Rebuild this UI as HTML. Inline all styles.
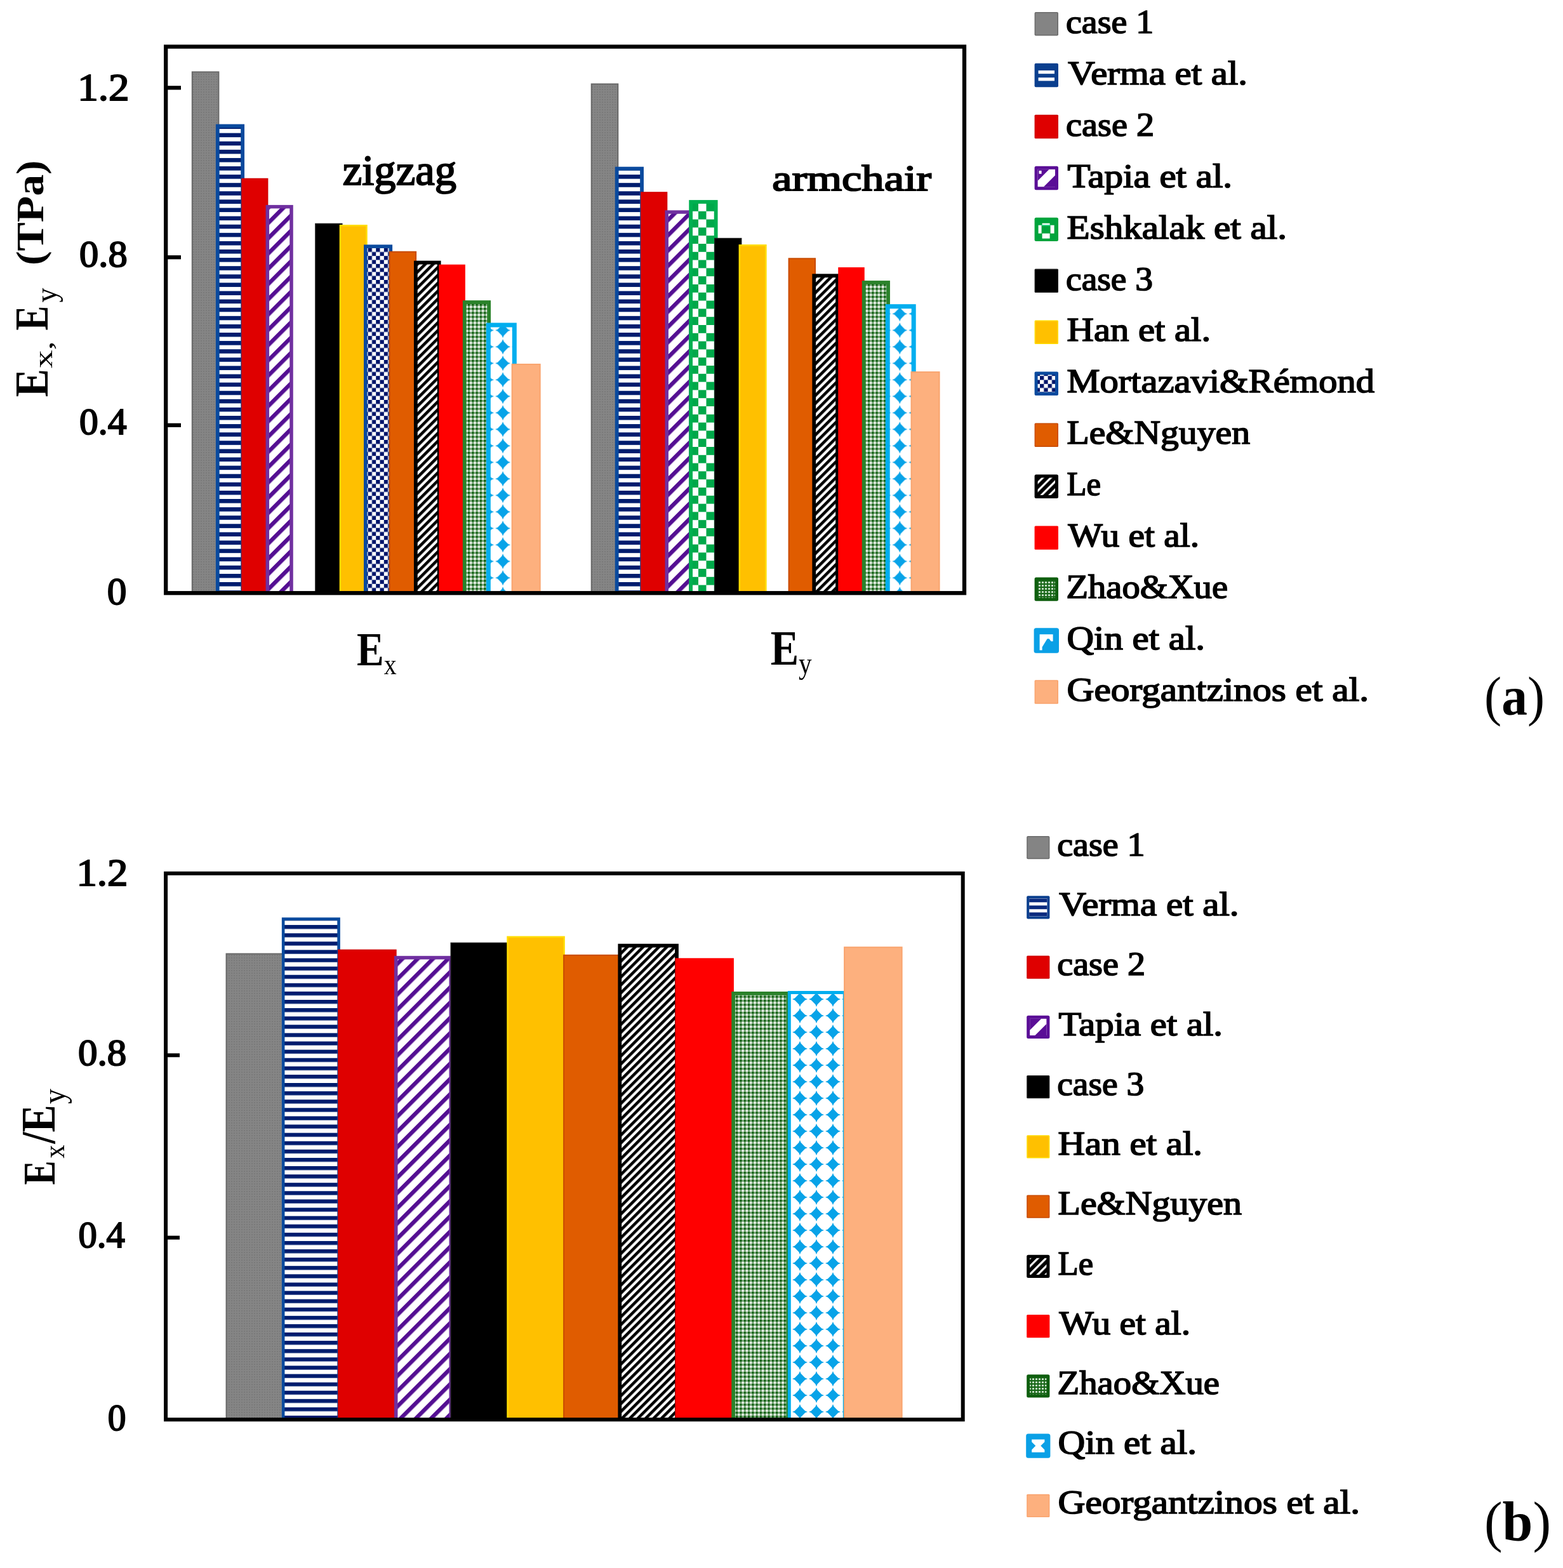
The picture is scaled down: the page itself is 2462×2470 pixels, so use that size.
<!DOCTYPE html>
<html><head><meta charset="utf-8"><title>Young modulus comparison</title>
<style>html,body{margin:0;padding:0;background:#fff;overflow:hidden;}svg{display:block;}text{font-family:'Liberation Serif', 'Times New Roman', serif;fill:#000;}</style></head><body>
<svg width="2462" height="2470" viewBox="0 0 2462 2470">
<defs>
<pattern id="pVerma" patternUnits="userSpaceOnUse" width="40" height="13.1" y="0">
  <rect width="40" height="13.1" fill="#ffffff"/>
  <rect y="0" width="40" height="6.6" fill="#001c6e"/>
</pattern>
<pattern id="pVermaB" patternUnits="userSpaceOnUse" width="40" height="13.1" y="3">
  <rect width="40" height="13.1" fill="#ffffff"/>
  <rect y="0" width="40" height="6.2" fill="#001c6e"/>
</pattern>
<pattern id="pTapia" patternUnits="userSpaceOnUse" width="17" height="17" patternTransform="rotate(-45)">
  <rect width="17" height="17" fill="#ffffff"/>
  <rect y="0" width="17" height="6.4" fill="#540f92"/>
</pattern>
<pattern id="pEsh" patternUnits="userSpaceOnUse" width="25" height="25.6">
  <rect width="25" height="25.6" fill="#ffffff"/>
  <rect x="0" y="0" width="12.5" height="12.8" fill="#00a84a"/>
  <rect x="12.5" y="12.8" width="12.5" height="12.8" fill="#00a84a"/>
</pattern>
<pattern id="pMort" patternUnits="userSpaceOnUse" width="12.6" height="12.6">
  <rect width="12.6" height="12.6" fill="#ffffff"/>
  <rect x="0" y="0" width="6.3" height="6.3" fill="#00146a"/>
  <rect x="6.3" y="6.3" width="6.3" height="6.3" fill="#00146a"/>
</pattern>
<pattern id="pLe" patternUnits="userSpaceOnUse" width="8.8" height="8.8" patternTransform="rotate(-45)">
  <rect width="8.8" height="8.8" fill="#ffffff"/>
  <rect y="0" width="8.8" height="4.6" fill="#000000"/>
</pattern>
<pattern id="pZhao" patternUnits="userSpaceOnUse" width="6.3" height="6.3">
  <rect width="6.3" height="6.3" fill="#7aa87a"/>
  <rect x="0" y="0" width="3" height="3" fill="#0a5a0a"/>
  <rect x="3.15" y="3.15" width="3" height="3" fill="#ffffff"/>
</pattern>
<pattern id="pQin" patternUnits="userSpaceOnUse" width="26" height="26">
  <rect width="26" height="26" fill="#ffffff"/>
  <path d="M13 3.5 L21.5 13 L13 22.5 L4.5 13 Z" fill="#0aa6ea"/>
</pattern>
<pattern id="pQinEx" patternUnits="userSpaceOnUse" width="26" height="26" x="779.1" y="-12.7">
  <rect width="26" height="26" fill="#ffffff"/>
  <path d="M13 1 L14.6 4.8 L21.2 11.4 L25 13 L21.2 14.6 L14.6 21.2 L13 25 L11.4 21.2 L4.8 14.6 L1 13 L4.8 11.4 L11.4 4.8 Z" fill="#08a3e8"/>
</pattern>
<pattern id="pQinEy" patternUnits="userSpaceOnUse" width="26" height="26" x="1404.3" y="-12.7">
  <rect width="26" height="26" fill="#ffffff"/>
  <path d="M13 1 L14.6 4.8 L21.2 11.4 L25 13 L21.2 14.6 L14.6 21.2 L13 25 L11.4 21.2 L4.8 14.6 L1 13 L4.8 11.4 L11.4 4.8 Z" fill="#08a3e8"/>
</pattern>
<pattern id="pQinB" patternUnits="userSpaceOnUse" width="26" height="26" x="1273" y="1561">
  <rect width="26" height="26" fill="#ffffff"/>
  <path d="M13 1 L14.6 4.8 L21.2 11.4 L25 13 L21.2 14.6 L14.6 21.2 L13 25 L11.4 21.2 L4.8 14.6 L1 13 L4.8 11.4 L11.4 4.8 Z" fill="#08a3e8"/>
</pattern>
<pattern id="pLeIcon" patternUnits="userSpaceOnUse" width="9" height="9" patternTransform="rotate(-45)">
  <rect width="9" height="9" fill="#000"/>
  <rect y="0" width="9" height="3.2" fill="#fff"/>
</pattern>
<pattern id="pZhaoIcon" patternUnits="userSpaceOnUse" width="5" height="5">
  <rect width="5" height="5" fill="#1d6a1d"/>
  <circle cx="2.5" cy="2.5" r="1.6" fill="#d8ecd8"/>
</pattern>
<pattern id="pGray" patternUnits="userSpaceOnUse" width="4" height="4">
  <rect width="4" height="4" fill="#858585"/>
  <rect width="2" height="2" fill="#7a7a7a"/>
</pattern>
</defs>
<rect width="2462" height="2470" fill="#fff"/>
<rect x="301.80" y="112.40" width="43.60" height="821.60" fill="#686868"/><rect x="303.80" y="114.40" width="39.60" height="819.60" fill="url(#pGray)"/><rect x="339.85" y="195.60" width="45.20" height="738.40" fill="#0a4a9e"/><rect x="345.65" y="201.40" width="33.60" height="732.60" fill="url(#pVerma)"/><rect x="380.20" y="280.70" width="42.20" height="653.30" fill="#d00000"/><rect x="381.70" y="282.20" width="39.20" height="651.80" fill="#df0000"/><rect x="418.55" y="322.90" width="43.20" height="611.10" fill="#7030a0"/><rect x="424.05" y="328.40" width="32.20" height="605.60" fill="url(#pTapia)"/><rect x="496.15" y="351.70" width="43.40" height="582.30" fill="#1a1a1a"/><rect x="497.65" y="353.20" width="40.40" height="580.80" fill="#000000"/><rect x="534.70" y="354.00" width="44.00" height="580.00" fill="#ffdd00"/><rect x="537.20" y="356.50" width="39.00" height="577.50" fill="#ffc000"/><rect x="573.00" y="385.40" width="45.10" height="548.60" fill="#0a4a9e"/><rect x="578.50" y="390.90" width="34.10" height="543.10" fill="url(#pMort)"/><rect x="612.70" y="395.70" width="43.40" height="538.30" fill="#c84a00"/><rect x="614.70" y="397.70" width="39.40" height="536.30" fill="#e05c00"/><rect x="651.95" y="410.70" width="42.60" height="523.30" fill="#000000"/><rect x="657.75" y="416.50" width="31.00" height="517.50" fill="url(#pLe)"/><rect x="691.35" y="416.70" width="41.50" height="517.30" fill="#ff0000"/><rect x="728.85" y="473.20" width="44.20" height="460.80" fill="#2a822a"/><rect x="734.65" y="479.00" width="32.60" height="455.00" fill="url(#pZhao)"/><rect x="765.80" y="508.50" width="48.00" height="425.50" fill="#00aeef"/><rect x="772.80" y="515.50" width="34.00" height="418.50" fill="url(#pQinEx)"/><rect x="805.65" y="572.90" width="46.00" height="361.10" fill="#f9a46e"/><rect x="807.65" y="574.90" width="42.00" height="359.10" fill="#fdb07e"/><rect x="930.70" y="131.40" width="43.60" height="802.60" fill="#686868"/><rect x="932.70" y="133.40" width="39.60" height="800.60" fill="url(#pGray)"/><rect x="968.75" y="262.70" width="45.20" height="671.30" fill="#0a4a9e"/><rect x="974.55" y="268.50" width="33.60" height="665.50" fill="url(#pVerma)"/><rect x="1009.10" y="302.20" width="42.20" height="631.80" fill="#d00000"/><rect x="1010.60" y="303.70" width="39.20" height="630.30" fill="#df0000"/><rect x="1047.45" y="331.30" width="43.20" height="602.70" fill="#7030a0"/><rect x="1052.95" y="336.80" width="32.20" height="597.20" fill="url(#pTapia)"/><rect x="1085.25" y="315.10" width="45.30" height="618.90" fill="#00b050"/><rect x="1091.05" y="320.90" width="33.70" height="613.10" fill="url(#pEsh)"/><rect x="1125.05" y="374.80" width="43.40" height="559.20" fill="#1a1a1a"/><rect x="1126.55" y="376.30" width="40.40" height="557.70" fill="#000000"/><rect x="1163.60" y="385.10" width="44.00" height="548.90" fill="#ffdd00"/><rect x="1166.10" y="387.60" width="39.00" height="546.40" fill="#ffc000"/><rect x="1241.60" y="406.30" width="43.40" height="527.70" fill="#c84a00"/><rect x="1243.60" y="408.30" width="39.40" height="525.70" fill="#e05c00"/><rect x="1279.35" y="431.40" width="42.60" height="502.60" fill="#000000"/><rect x="1285.15" y="437.20" width="31.00" height="496.80" fill="url(#pLe)"/><rect x="1320.25" y="421.10" width="41.50" height="512.90" fill="#ff0000"/><rect x="1357.75" y="442.10" width="44.20" height="491.90" fill="#2a822a"/><rect x="1363.55" y="447.90" width="32.60" height="486.10" fill="url(#pZhao)"/><rect x="1394.70" y="479.20" width="48.00" height="454.80" fill="#00aeef"/><rect x="1401.70" y="486.20" width="34.00" height="447.80" fill="url(#pQinEy)"/><rect x="1434.55" y="585.10" width="46.00" height="348.90" fill="#f9a46e"/><rect x="1436.55" y="587.10" width="42.00" height="346.90" fill="#fdb07e"/><rect x="355.55" y="1501.50" width="91.50" height="734.50" fill="#686868"/><rect x="357.55" y="1503.50" width="87.50" height="732.50" fill="url(#pGray)"/><rect x="443.85" y="1445.30" width="92.00" height="790.70" fill="#0a4a9e"/><rect x="448.45" y="1449.90" width="82.80" height="786.10" fill="url(#pVermaB)"/><rect x="532.15" y="1495.60" width="92.50" height="740.40" fill="#d00000"/><rect x="533.65" y="1497.10" width="89.50" height="738.90" fill="#df0000"/><rect x="620.95" y="1505.80" width="92.00" height="730.20" fill="#7030a0"/><rect x="626.45" y="1511.30" width="81.00" height="724.70" fill="url(#pTapia)"/><rect x="709.50" y="1484.60" width="92.00" height="751.40" fill="#1a1a1a"/><rect x="711.00" y="1486.10" width="89.00" height="749.90" fill="#000000"/><rect x="798.30" y="1474.60" width="91.50" height="761.40" fill="#ffdd00"/><rect x="800.80" y="1477.10" width="86.50" height="758.90" fill="#ffc000"/><rect x="887.10" y="1503.70" width="91.00" height="732.30" fill="#c84a00"/><rect x="889.10" y="1505.70" width="87.00" height="730.30" fill="#e05c00"/><rect x="973.40" y="1486.70" width="95.50" height="749.30" fill="#000000"/><rect x="979.20" y="1492.50" width="83.90" height="743.50" fill="url(#pLe)"/><rect x="1063.50" y="1509.30" width="92.40" height="726.70" fill="#ff0000"/><rect x="1152.25" y="1562.00" width="92.00" height="674.00" fill="#2a822a"/><rect x="1158.05" y="1567.80" width="80.40" height="668.20" fill="url(#pZhao)"/><rect x="1240.80" y="1561.00" width="92.00" height="675.00" fill="#00aeef"/><rect x="1245.80" y="1566.00" width="82.00" height="670.00" fill="url(#pQinB)"/><rect x="1329.10" y="1491.20" width="92.50" height="744.80" fill="#f9a46e"/><rect x="1331.10" y="1493.20" width="88.50" height="742.80" fill="#fdb07e"/>
<rect x="261.2" y="73.5" width="1257.8" height="860.7" fill="none" stroke="#000" stroke-width="6.3"/><rect x="261" y="135.2" width="24" height="6.2" fill="#000"/><rect x="261" y="402.2" width="24" height="6.2" fill="#000"/><rect x="261" y="666.7" width="24" height="6.2" fill="#000"/><rect x="261.1" y="1375.8" width="1255.6" height="860.4" fill="none" stroke="#000" stroke-width="6.0"/><rect x="261" y="1659.3" width="22" height="6.0" fill="#000"/><rect x="261" y="1946.6" width="22" height="6.0" fill="#000"/>
<rect x="1629.6" y="18.9" width="37.4" height="37.4" rx="2" fill="#6a6a6a"/><rect x="1631.1" y="20.4" width="34.4" height="34.4" fill="#848484"/><rect x="1629.6" y="99.8" width="37.4" height="37.4" rx="2" fill="#0a3f8e"/><rect x="1635.6" y="111.0" width="25.4" height="5.2" fill="#fff"/><rect x="1635.6" y="122.2" width="25.4" height="5.2" fill="#fff"/><rect x="1629.6" y="180.8" width="37.4" height="37.4" rx="1.5" fill="#d00000"/><rect x="1631.1" y="182.3" width="34.4" height="34.4" fill="#df0000"/><rect x="1629.6" y="261.8" width="37.4" height="37.4" rx="2.5" fill="#5a0e96"/><rect x="1634.6" y="266.8" width="27.4" height="27.4" fill="#fff"/><path d="M1634.6 284.8 L1652.6 266.8 L1634.6 266.8 Z" fill="#5a0e96"/><path d="M1662.0 276.2 L1644.0 294.2 L1662.0 294.2 Z" fill="#5a0e96"/><rect x="1636.6" y="268.8" width="4" height="5" fill="#fff"/><rect x="1629.6" y="342.7" width="37.4" height="37.4" rx="2.5" fill="#00a43c"/><rect x="1635.6" y="354.7" width="5" height="13" fill="#fff"/><rect x="1654.6" y="354.7" width="6" height="13" fill="#fff"/><rect x="1641.6" y="367.7" width="12" height="8" fill="#fff"/><rect x="1641.6" y="351.7" width="12" height="2.5" fill="#fff"/><rect x="1640.6" y="354.2" width="14" height="1.5" fill="#40e0a0"/><rect x="1629.6" y="423.6" width="37.4" height="37.4" rx="1.5" fill="#1a1a1a"/><rect x="1631.1" y="425.1" width="34.4" height="34.4" fill="#000000"/><rect x="1629.6" y="504.6" width="37.4" height="37.4" rx="1.5" fill="#ffdd00"/><rect x="1631.1" y="506.1" width="34.4" height="34.4" fill="#ffc000"/><rect x="1629.6" y="585.5" width="37.4" height="37.4" rx="2" fill="#0a4a9e"/><rect x="1634.6" y="590.5" width="27.4" height="27.4" fill="url(#pMort)"/><rect x="1629.6" y="666.5" width="37.4" height="37.4" rx="1.5" fill="#c84a00"/><rect x="1631.1" y="668.0" width="34.4" height="34.4" fill="#e05c00"/><rect x="1629.6" y="747.5" width="37.4" height="37.4" rx="2.5" fill="#000"/><rect x="1634.6" y="752.5" width="27.4" height="27.4" fill="url(#pLeIcon)"/><rect x="1629.6" y="828.4" width="37.4" height="37.4" rx="1.5" fill="#ff0000"/><rect x="1629.6" y="909.4" width="37.4" height="37.4" rx="2.5" fill="#0e5e0e"/><rect x="1634.6" y="914.4" width="27.4" height="27.4" fill="url(#pZhaoIcon)"/><rect x="1628.6" y="989.3" width="39.4" height="39.4" rx="3.5" fill="#0aa0e6"/><path d="M1637.6 999.3 H1658.6 V1010.3 H1655.6 L1652.6 1006.3 H1649.6 L1641.6 1019.3 V1024.3 H1637.6 Z" fill="#fff"/><rect x="1629.6" y="1071.3" width="37.4" height="37.4" rx="1.5" fill="#f9a46e"/><rect x="1631.1" y="1072.8" width="34.4" height="34.4" fill="#fdb07e"/><rect x="1617.2" y="1317.0" width="36.2" height="36.2" rx="2" fill="#6a6a6a"/><rect x="1618.7" y="1318.5" width="33.2" height="33.2" fill="#848484"/><rect x="1617.2" y="1411.2" width="36.2" height="36.2" rx="2" fill="#0a3f8e"/><rect x="1621.2" y="1415.2" width="28.200000000000003" height="28.200000000000003" fill="#fff"/><rect x="1621.2" y="1415.5" width="28.200000000000003" height="5.8" fill="#0a2a7e"/><rect x="1621.2" y="1426.4" width="28.200000000000003" height="5.8" fill="#0a2a7e"/><rect x="1621.2" y="1437.3" width="28.200000000000003" height="5.8" fill="#0a2a7e"/><rect x="1617.2" y="1505.5" width="36.2" height="36.2" rx="1.5" fill="#d00000"/><rect x="1618.7" y="1507.0" width="33.2" height="33.2" fill="#df0000"/><rect x="1617.2" y="1599.8" width="36.2" height="36.2" rx="2.5" fill="#5a0e96"/><rect x="1622.2" y="1604.8" width="26.200000000000003" height="26.200000000000003" fill="#fff"/><path d="M1622.2 1622.8 L1640.2 1604.8 L1622.2 1604.8 Z" fill="#5a0e96"/><path d="M1648.4 1613.0 L1630.4 1631.0 L1648.4 1631.0 Z" fill="#5a0e96"/><rect x="1617.2" y="1694.0" width="36.2" height="36.2" rx="1.5" fill="#1a1a1a"/><rect x="1618.7" y="1695.5" width="33.2" height="33.2" fill="#000000"/><rect x="1617.2" y="1788.2" width="36.2" height="36.2" rx="1.5" fill="#ffdd00"/><rect x="1618.7" y="1789.7" width="33.2" height="33.2" fill="#ffc000"/><rect x="1617.2" y="1882.5" width="36.2" height="36.2" rx="1.5" fill="#c84a00"/><rect x="1618.7" y="1884.0" width="33.2" height="33.2" fill="#e05c00"/><rect x="1617.2" y="1976.8" width="36.2" height="36.2" rx="2.5" fill="#000"/><rect x="1622.2" y="1981.8" width="26.200000000000003" height="26.200000000000003" fill="url(#pLeIcon)"/><rect x="1617.2" y="2071.0" width="36.2" height="36.2" rx="1.5" fill="#ff0000"/><rect x="1617.2" y="2165.2" width="36.2" height="36.2" rx="2.5" fill="#0e5e0e"/><rect x="1622.2" y="2170.2" width="26.200000000000003" height="26.200000000000003" fill="url(#pZhaoIcon)"/><rect x="1616.2" y="2258.5" width="38.2" height="38.2" rx="3.5" fill="#0aa0e6"/><path d="M1625.2 2267.5 H1645.4 V2271.5 L1639.3 2277.6 L1645.4 2283.7 V2287.7 H1625.2 V2283.7 L1631.3 2277.6 L1625.2 2271.5 Z" fill="#fff"/><rect x="1617.2" y="2353.8" width="36.2" height="36.2" rx="1.5" fill="#f9a46e"/><rect x="1618.7" y="2355.3" width="33.2" height="33.2" fill="#fdb07e"/>
<g>
<text x="122.30" y="157.50" font-size="61.11" font-weight="normal" stroke="#000" stroke-width="2.0" textLength="81.29" lengthAdjust="spacingAndGlyphs">1.2</text>
<text x="125.10" y="419.90" font-size="58.25" font-weight="normal" stroke="#000" stroke-width="2.0" textLength="75.52" lengthAdjust="spacingAndGlyphs">0.8</text>
<text x="125.10" y="684.20" font-size="58.35" font-weight="normal" stroke="#000" stroke-width="2.0" textLength="74.41" lengthAdjust="spacingAndGlyphs">0.4</text>
<text x="168.80" y="952.20" font-size="61.83" font-weight="normal" stroke="#000" stroke-width="2.0" textLength="30.72" lengthAdjust="spacingAndGlyphs">0</text>
<text x="120.40" y="1394.60" font-size="61.86" font-weight="normal" stroke="#000" stroke-width="2.0" textLength="81.14" lengthAdjust="spacingAndGlyphs">1.2</text>
<text x="123.00" y="1678.20" font-size="58.39" font-weight="normal" stroke="#000" stroke-width="2.0" textLength="76.24" lengthAdjust="spacingAndGlyphs">0.8</text>
<text x="123.50" y="1965.00" font-size="58.56" font-weight="normal" stroke="#000" stroke-width="2.0" textLength="73.27" lengthAdjust="spacingAndGlyphs">0.4</text>
<text x="169.80" y="2252.60" font-size="58.25" font-weight="normal" stroke="#000" stroke-width="2.0" textLength="28.73" lengthAdjust="spacingAndGlyphs">0</text>
<text x="539.80" y="291.40" font-size="67.63" font-weight="normal" stroke="#000" stroke-width="2.0" textLength="179.23" lengthAdjust="spacingAndGlyphs">zigzag</text>
<text x="1216.30" y="300.10" font-size="57.92" font-weight="normal" stroke="#000" stroke-width="2.0" textLength="250.84" lengthAdjust="spacingAndGlyphs">armchair</text>
<text x="1679.00" y="51.90" font-size="53.00" font-weight="normal" stroke="#000" stroke-width="1.7" textLength="138.19" lengthAdjust="spacingAndGlyphs">case 1</text>
<text x="1682.20" y="132.80" font-size="53.00" font-weight="normal" stroke="#000" stroke-width="1.7" textLength="282.82" lengthAdjust="spacingAndGlyphs">Verma et al.</text>
<text x="1679.00" y="213.70" font-size="53.00" font-weight="normal" stroke="#000" stroke-width="1.7" textLength="139.17" lengthAdjust="spacingAndGlyphs">case 2</text>
<text x="1681.50" y="294.70" font-size="53.00" font-weight="normal" stroke="#000" stroke-width="1.7" textLength="259.55" lengthAdjust="spacingAndGlyphs">Tapia et al.</text>
<text x="1680.50" y="375.60" font-size="53.00" font-weight="normal" stroke="#000" stroke-width="1.7" textLength="346.55" lengthAdjust="spacingAndGlyphs">Eshkalak et al.</text>
<text x="1679.00" y="456.50" font-size="53.00" font-weight="normal" stroke="#000" stroke-width="1.7" textLength="137.12" lengthAdjust="spacingAndGlyphs">case 3</text>
<text x="1680.50" y="537.40" font-size="53.00" font-weight="normal" stroke="#000" stroke-width="1.7" textLength="226.58" lengthAdjust="spacingAndGlyphs">Han et al.</text>
<text x="1680.50" y="618.30" font-size="53.00" font-weight="normal" stroke="#000" stroke-width="1.7" textLength="484.50" lengthAdjust="spacingAndGlyphs">Mortazavi&amp;Rémond</text>
<text x="1680.50" y="699.30" font-size="53.00" font-weight="normal" stroke="#000" stroke-width="1.7" textLength="288.51" lengthAdjust="spacingAndGlyphs">Le&amp;Nguyen</text>
<text x="1680.50" y="780.20" font-size="53.00" font-weight="normal" stroke="#000" stroke-width="1.7" textLength="53.58" lengthAdjust="spacingAndGlyphs">Le</text>
<text x="1682.50" y="861.10" font-size="53.00" font-weight="normal" stroke="#000" stroke-width="1.7" textLength="206.55" lengthAdjust="spacingAndGlyphs">Wu et al.</text>
<text x="1679.50" y="942.00" font-size="53.00" font-weight="normal" stroke="#000" stroke-width="1.7" textLength="254.54" lengthAdjust="spacingAndGlyphs">Zhao&amp;Xue</text>
<text x="1680.50" y="1022.90" font-size="53.00" font-weight="normal" stroke="#000" stroke-width="1.7" textLength="217.60" lengthAdjust="spacingAndGlyphs">Qin et al.</text>
<text x="1680.50" y="1103.90" font-size="53.00" font-weight="normal" stroke="#000" stroke-width="1.7" textLength="475.56" lengthAdjust="spacingAndGlyphs">Georgantzinos et al.</text>
<text x="1665.20" y="1347.70" font-size="53.00" font-weight="normal" stroke="#000" stroke-width="1.7" textLength="138.44" lengthAdjust="spacingAndGlyphs">case 1</text>
<text x="1668.20" y="1442.00" font-size="53.00" font-weight="normal" stroke="#000" stroke-width="1.7" textLength="283.43" lengthAdjust="spacingAndGlyphs">Verma et al.</text>
<text x="1665.20" y="1536.20" font-size="53.00" font-weight="normal" stroke="#000" stroke-width="1.7" textLength="138.92" lengthAdjust="spacingAndGlyphs">case 2</text>
<text x="1667.50" y="1630.50" font-size="53.00" font-weight="normal" stroke="#000" stroke-width="1.7" textLength="258.55" lengthAdjust="spacingAndGlyphs">Tapia et al.</text>
<text x="1665.20" y="1724.70" font-size="53.00" font-weight="normal" stroke="#000" stroke-width="1.7" textLength="136.91" lengthAdjust="spacingAndGlyphs">case 3</text>
<text x="1666.50" y="1819.00" font-size="53.00" font-weight="normal" stroke="#000" stroke-width="1.7" textLength="227.58" lengthAdjust="spacingAndGlyphs">Han et al.</text>
<text x="1666.50" y="1913.20" font-size="53.00" font-weight="normal" stroke="#000" stroke-width="1.7" textLength="289.51" lengthAdjust="spacingAndGlyphs">Le&amp;Nguyen</text>
<text x="1666.50" y="2007.50" font-size="53.00" font-weight="normal" stroke="#000" stroke-width="1.7" textLength="55.58" lengthAdjust="spacingAndGlyphs">Le</text>
<text x="1668.50" y="2101.70" font-size="53.00" font-weight="normal" stroke="#000" stroke-width="1.7" textLength="206.54" lengthAdjust="spacingAndGlyphs">Wu et al.</text>
<text x="1665.50" y="2195.90" font-size="53.00" font-weight="normal" stroke="#000" stroke-width="1.7" textLength="255.55" lengthAdjust="spacingAndGlyphs">Zhao&amp;Xue</text>
<text x="1666.50" y="2290.20" font-size="53.00" font-weight="normal" stroke="#000" stroke-width="1.7" textLength="218.61" lengthAdjust="spacingAndGlyphs">Qin et al.</text>
<text x="1666.50" y="2384.40" font-size="53.00" font-weight="normal" stroke="#000" stroke-width="1.7" textLength="475.55" lengthAdjust="spacingAndGlyphs">Georgantzinos et al.</text>
<text transform="translate(75.00 625.50) rotate(-90)" font-size="73.45" font-weight="bold" textLength="44.34" lengthAdjust="spacingAndGlyphs">E</text>
<text transform="translate(81.80 580.00) rotate(-90)" font-size="39.13" font-weight="normal" textLength="42.91" lengthAdjust="spacingAndGlyphs">x,</text>
<text transform="translate(75.00 520.50) rotate(-90)" font-size="73.45" font-weight="bold" textLength="38.84" lengthAdjust="spacingAndGlyphs">E</text>
<text transform="translate(89.20 476.50) rotate(-90)" font-size="49.32" font-weight="normal" textLength="23.02" lengthAdjust="spacingAndGlyphs">y</text>
<text transform="translate(68.00 418.00) rotate(-90)" font-size="62.29" font-weight="bold" textLength="165.68" lengthAdjust="spacingAndGlyphs">(TPa)</text>
<text transform="translate(85.50 1866.50) rotate(-90)" font-size="71.32" font-weight="bold" textLength="38.31" lengthAdjust="spacingAndGlyphs">E</text>
<text transform="translate(100.50 1824.50) rotate(-90)" font-size="46.00" font-weight="normal" textLength="21.10" lengthAdjust="spacingAndGlyphs">x</text>
<text transform="translate(85.50 1801.50) rotate(-90)" font-size="76.66" font-weight="bold" textLength="61.17" lengthAdjust="spacingAndGlyphs">/E</text>
<text transform="translate(102.40 1739.00) rotate(-90)" font-size="51.52" font-weight="normal" textLength="24.03" lengthAdjust="spacingAndGlyphs">y</text>
<text transform="translate(562.00 1048.20) scale(0.8731 1)" font-size="73.32" font-weight="bold">E<tspan dy="14.17" font-size="45.58" font-weight="normal">x</tspan></text><text transform="translate(1213.70 1046.70) scale(0.8418 1)" font-size="79.02" font-weight="bold">E<tspan dy="14.42" font-size="49.12" font-weight="normal">y</tspan></text><text transform="translate(2338.00 1126.00) scale(0.9501 1)" font-size="85.80">(<tspan font-weight="bold">a</tspan>)</text><text transform="translate(2338.00 2426.70) scale(0.9743 1)" font-size="88.17">(<tspan font-weight="bold">b</tspan>)</text>
</g>
</svg></body></html>
